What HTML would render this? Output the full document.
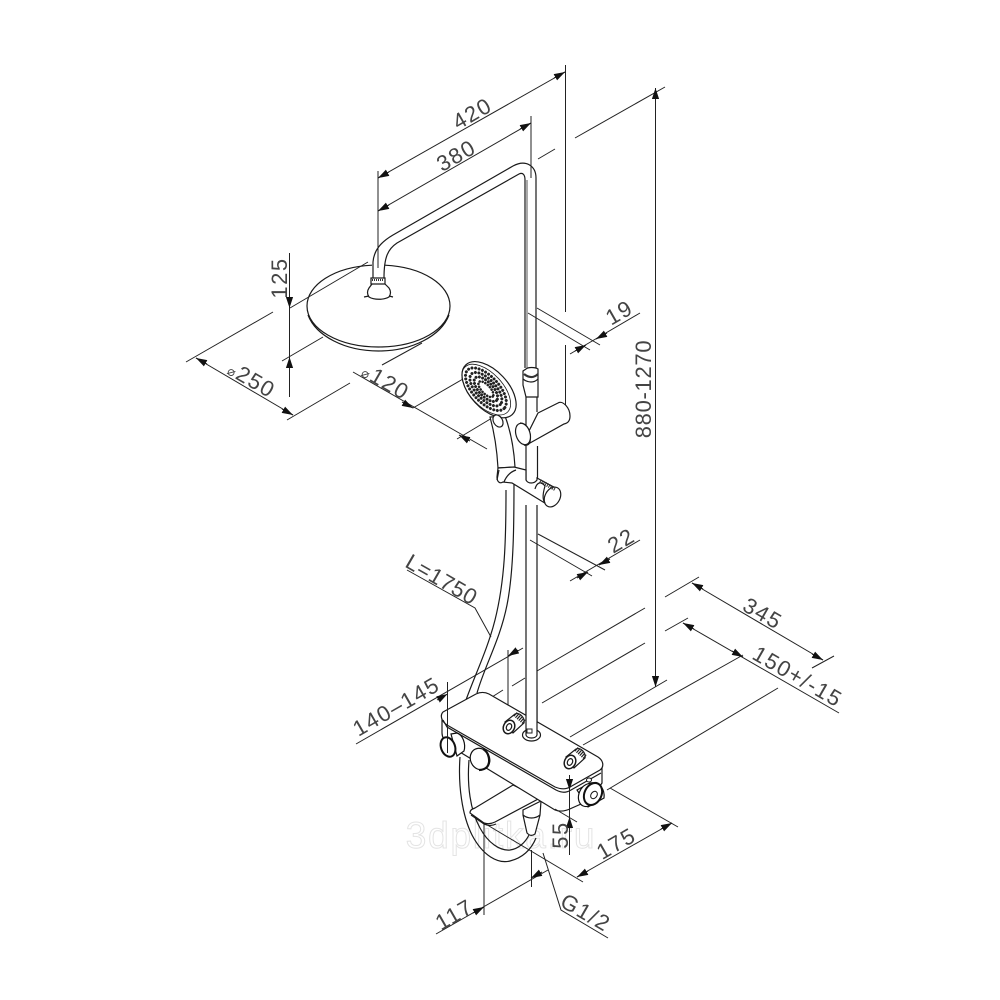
<!DOCTYPE html>
<html><head><meta charset="utf-8"><style>
html,body{margin:0;padding:0;background:#fff}
svg{display:block}
.t{font-family:"Liberation Sans",sans-serif;font-size:22px;letter-spacing:1.5px;fill:#444;text-anchor:middle}
.d line,.d path{stroke:#222;stroke-width:1;fill:none}
.o path,.o ellipse,.o circle{stroke:#1a1a1a;stroke-width:1.2;fill:none}
.f path,.f ellipse{stroke:#1a1a1a;stroke-width:1.2;fill:#fff}
.dots ellipse{fill:none;stroke:#222;stroke-linecap:round}
</style></head><body>
<svg width="1000" height="1000" viewBox="0 0 1000 1000" xmlns="http://www.w3.org/2000/svg">
<defs><marker id="a" markerUnits="userSpaceOnUse" markerWidth="12" markerHeight="8" refX="11" refY="4" orient="auto"><path d="M0 .4L11 4L0 7.6z" fill="#111"/></marker></defs>
<rect width="1000" height="1000" fill="#fff"/>

<text x="501" y="848" style="font-family:'Liberation Sans',sans-serif;font-size:37px;letter-spacing:1.8px;text-anchor:middle;fill:#fff;stroke:#e4e4e4;stroke-width:1">3dplitka.ru</text>

<!-- riser and arm -->
<g class="o">
<path d="M373 278L373 262C374 250 381 242 393 235L513 166C526 159 536 166 536 178L536 368"/>
<path d="M384 278C384 257 388 249 397 243L519 174C523 172 525 175 525 180L525 368"/>
<path d="M527 180L527 368" style="stroke:#aaa;stroke-width:2"/>
<path d="M526 397L526 430M537 397L537 412M526 446L526 482M537.500 446L537.500 480M526 505L526 735M537 505L537 735"/>
</g>

<!-- overhead shower -->
<g class="o">
<path d="M372 265.200C334 267 307 285 307 306C307 329 339 347 378.500 347C418 347 450 329 450 306C450 285 423 267 385 265.200"/>
<path d="M308 315C316 336 345 351 378.500 351C412 351 441 336 449 315"/>
<path d="M372 284L369 288C367 291 367 294 369 297C374 300 384 300 389 297C391 294 391 291 389 288L385 284"/>
<path d="M369 296L364 297M389 296L393 297"/>
<path d="M371 278L385 278L385 284L371 284Z" style="fill:#fff"/>
</g>
<path d="M372 280L384 280" stroke="#333" stroke-width="2" stroke-dasharray="1 1"/>

<g class="d">
<!-- 420 / 380 -->
<line x1="565.500" y1="65" x2="565.500" y2="312"/><line x1="565.500" y1="345" x2="565.500" y2="405"/>
<line x1="531" y1="116" x2="531" y2="178"/><line x1="378" y1="171" x2="378" y2="268"/>
<line x1="378" y1="178" x2="565" y2="72"/><line x1="378" y1="211" x2="531" y2="123"/>
<path d="M389 172L378 178" marker-end="url(#a)"/><path d="M554 78L565 72" marker-end="url(#a)"/>
<path d="M389 205L378 211" marker-end="url(#a)"/><path d="M520 129L531 123" marker-end="url(#a)"/>
<line x1="538" y1="159" x2="555" y2="149"/><line x1="575" y1="138" x2="665" y2="87"/>
<!-- 125 -->
<line x1="289.500" y1="253" x2="289.500" y2="397"/>
<path d="M289.500 297L289.500 308" marker-end="url(#a)"/><path d="M289.500 368L289.500 357" marker-end="url(#a)"/>
<line x1="290" y1="308" x2="368" y2="262"/><line x1="282" y1="361" x2="323" y2="337"/>
<!-- 250 -->
<line x1="186" y1="362" x2="273" y2="312"/><line x1="196" y1="358" x2="293" y2="415"/>
<path d="M207 364L196 358" marker-end="url(#a)"/><path d="M282 409L293 415" marker-end="url(#a)"/>
<line x1="287" y1="420" x2="350" y2="383"/><line x1="382" y1="365" x2="422" y2="343"/>
<!-- 120 -->
<line x1="353" y1="372" x2="487" y2="449"/>
<path d="M402 402L413 408" marker-end="url(#a)"/><path d="M470 441L459 435" marker-end="url(#a)"/>
<line x1="413" y1="408" x2="463" y2="379"/><line x1="457" y1="439" x2="492" y2="418"/>
<!-- 19 -->
<line x1="537" y1="308" x2="600" y2="345"/><line x1="528" y1="313" x2="590" y2="350"/>
<line x1="570" y1="354" x2="640" y2="313"/>
<path d="M575 351L586 345" marker-end="url(#a)"/><path d="M607 333L596 339" marker-end="url(#a)"/>
<!-- 22 -->
<line x1="538" y1="534" x2="605" y2="570"/><line x1="530" y1="540" x2="592" y2="576"/>
<line x1="570" y1="581" x2="640" y2="540"/>
<path d="M577 578L588 572" marker-end="url(#a)"/><path d="M610 559L599 565" marker-end="url(#a)"/>
<!-- 880-1270 -->
<line x1="655.500" y1="88" x2="655.500" y2="687"/>
<path d="M655.500 99L655.500 88" marker-end="url(#a)"/><path d="M655.500 676L655.500 687" marker-end="url(#a)"/>
<line x1="570" y1="737" x2="667" y2="680"/>
<!-- 345 -->
<line x1="665" y1="597" x2="699" y2="577"/><line x1="812" y1="668" x2="834" y2="656"/>
<line x1="692" y1="583" x2="823" y2="660"/>
<path d="M703 589L692 583" marker-end="url(#a)"/><path d="M812 654L823 660" marker-end="url(#a)"/>
<line x1="537" y1="671" x2="645" y2="608"/>
<line x1="512" y1="686" x2="525" y2="678"/><line x1="542" y1="703" x2="645" y2="643"/>
<line x1="492" y1="697" x2="503" y2="690"/>
<!-- 140-145 -->
<line x1="356" y1="744" x2="523" y2="648"/>
<line x1="508" y1="650" x2="508" y2="705"/>
<path d="M518 650L508 656" marker-end="url(#a)"/>
<!-- 150 -->
<line x1="665" y1="631" x2="688" y2="618"/>
<line x1="683" y1="623" x2="839" y2="713"/>
<path d="M694 629L683 623" marker-end="url(#a)"/><path d="M732 651L743 657" marker-end="url(#a)"/>
<line x1="583" y1="745" x2="743" y2="655"/><line x1="607" y1="790" x2="778" y2="688"/>
<!-- 175 -->
<line x1="610" y1="788" x2="678" y2="827"/><line x1="484" y1="823" x2="583" y2="882"/>
<line x1="577" y1="877" x2="672" y2="823"/>
<path d="M588 871L577 877" marker-end="url(#a)"/><path d="M661 829L672 823" marker-end="url(#a)"/>
<!-- 117 -->
<line x1="436" y1="934" x2="548" y2="870"/>
<line x1="484" y1="823" x2="484" y2="915"/><line x1="531.500" y1="850" x2="531.500" y2="887"/>
<path d="M473 913L484 907" marker-end="url(#a)"/><path d="M542 872L531 878" marker-end="url(#a)"/>
<!-- leaders -->
<path d="M543 853L561 910L608 938"/>
<path d="M407 570L475 608L491 637"/>
</g>

<!-- hose upper -->
<g class="o">
<path d="M506 490C506 540 505 580 495 620C488 648 475 675 466 700"/>
<path d="M514 478C514 520 514 570 507 605C500 640 485 665 477 693"/>
</g>

<!-- hand shower -->
<g class="f">
<path d="M490 417C495 435 497 450 498 468L515 467C514 450 511 432 505 416Z"/>
</g>
<g transform="rotate(47 488 390)">
<ellipse cx="488.500" cy="389" rx="34" ry="19" fill="#fff" stroke="#1a1a1a" stroke-width="1.200"/>
<ellipse cx="486.500" cy="391" rx="31" ry="16.500" fill="none" stroke="#1a1a1a" stroke-width=".8"/>
<g class="dots">
<ellipse cx="486" cy="391" rx="26.500" ry="13" stroke-width="3" stroke-dasharray="0 3.600"/>
<ellipse cx="486" cy="391" rx="21" ry="9.800" stroke-width="3" stroke-dasharray="0 3.600"/>
<ellipse cx="486" cy="391" rx="15.500" ry="7" stroke-width="3" stroke-dasharray="0 3.400"/>
<ellipse cx="486" cy="391" rx="10" ry="4.300" stroke-width="2.600" stroke-dasharray="0 3"/>
</g>
<ellipse cx="487" cy="391" rx="6" ry="1.800" fill="#fff"/>
</g>
<ellipse cx="498" cy="421" rx="4.500" ry="6.500" transform="rotate(-30 498 421)" fill="#fff" stroke="#1a1a1a" stroke-width="1.200"/>

<!-- collar on riser -->
<g class="o"><path d="M526 369C528 367 535 367 538 369L538 397L526 397L523 385L523 371Z" style="fill:#fff"/><path d="M523 379C528 383 534 383 538 379"/></g>
<path d="M524 374C529 378 534 378 538 374" stroke="#333" stroke-width="2.200" fill="none"/>

<!-- upper clamp -->
<g class="f">
<path d="M538 413L558 403C563 400 570 408 570 416C570 421 568 423 564 424L530 443L524 441Z"/>
<path d="M520 423C527 423 532 432 530 442C529 445 526 446 524 445" style="fill:none"/>
<ellipse cx="523" cy="434" rx="7" ry="11" transform="rotate(-18 523 434)"/>
</g>

<!-- slider -->
<g class="f">
<path d="M498 468L497 477C497 482 500 484 503 482L512 483L548 505C553 507 559 498 559 490L537 478L537 480C534 484 528 484 526 480L526 470L514 467Z"/>
<ellipse cx="552.500" cy="497" rx="7.500" ry="10.500" transform="rotate(28 552.500 497)"/>
<path d="M504 482C506 477 510 472 516 470M499 470L497 480" style="fill:none"/>
<path d="M540 481L555 489" style="stroke:#333;stroke-width:4;stroke-dasharray:1 1;fill:none"/>
<path d="M535 489C537 482 541 481 545 486C543 493 542 499 545 503" style="fill:none"/>
</g>

<!-- hose lower -->
<g class="o">
<path d="M460 757C458 785 462 815 472 835C483 856 498 864 510 861C522 858 531 850 536 838"/>
<path d="M469 760C467 785 470 810 480 828C488 843 500 851 510 850C518 849 525 843 529 835"/>
</g>

<!-- spout -->
<g class="f">
<path d="M470 813C470 810 472 809 475 808L513 785L540 798L495 822C491 824 487 824 484 823Z"/>
<path d="M471 815L484 824C488 826 492 826 496 824" style="fill:none"/>
<path d="M523 815L523 810L541 801L540 815L535 834C532 836 530 836 527 833Z"/>
<path d="M523 815C528 819 535 819 540 815" style="fill:none"/>
</g>

<!-- thermostat body -->
<g class="f">
<path d="M442 716L442 733C442 738 445 742 450 746L555 810C560 812 566 811 572 808L590 800L602 783L602 763Z"/>
<path d="M443 712L476 694C480 692 485 692 489 694L598 757C604 761 604 767 600 770L570 787C565 790 560 789 555 787L447 725C441 721 440 715 443 712Z"/>
<path d="M443 720L447 727L556 790C562 793 566 793 571 790L601 773" style="fill:none"/>
</g>

<!-- pipe base -->
<g class="f"><ellipse cx="531.500" cy="735" rx="9" ry="6"/></g>
<path d="M526 690L526 735C527 739 536 739 537 735L537 690Z" fill="#fff"/>
<g class="o"><path d="M526 690L526 735C527 739 536 739 537 735L537 690"/></g>
<rect x="527" y="729" width="5" height="4" fill="none" stroke="#222"/>

<!-- valves -->
<g class="o">
<path d="M505 722L515 714C520 712 525 718 524 723L513 733Z" style="fill:#fff"/>
<path d="M515 714L524 722" style="stroke:#222;stroke-width:5;stroke-dasharray:1.200 1"/>
<ellipse cx="509" cy="727" rx="5.500" ry="7" transform="rotate(25 509 727)" style="fill:#fff;stroke-width:1.500"/>
<ellipse cx="509" cy="727" rx="2.500" ry="3.500" transform="rotate(25 509 727)" style="fill:#fff"/>
</g>
<g class="o">
<path d="M566 757L576 749C581 747 586 753 585 758L574 768Z" style="fill:#fff"/>
<path d="M576 749L585 757" style="stroke:#222;stroke-width:5;stroke-dasharray:1.200 1"/>
<ellipse cx="570" cy="762" rx="5.500" ry="7" transform="rotate(25 570 762)" style="fill:#fff;stroke-width:1.500"/>
<ellipse cx="570" cy="762" rx="2.500" ry="3.500" transform="rotate(25 570 762)" style="fill:#fff"/>
</g>

<!-- knobs -->
<g>
<path d="M451 734L457 733C463 735 466 744 464 751L457 756Z" fill="#fff" stroke="#111" stroke-width="1.200"/>
<ellipse cx="448" cy="747" rx="7" ry="10" transform="rotate(-20 448 747)" fill="#fff" stroke="#111" stroke-width="2"/>
<ellipse cx="480" cy="759" rx="9.500" ry="11" transform="rotate(-25 480 759)" fill="#fff" stroke="#111" stroke-width="1.200"/>
<path d="M483 749C489 752 491 762 487 767C485 769 482 770 479 770" fill="none" stroke="#111" stroke-width="2.200"/>
<path d="M577 790L590 783C600 781 605 790 604 798L588 807Z" fill="#fff" stroke="#111" stroke-width="1.200"/>
<ellipse cx="588" cy="795" rx="9" ry="12" transform="rotate(25 588 795)" fill="#fff" stroke="#111" stroke-width="1.200"/>
<ellipse cx="593" cy="794" rx="8.500" ry="11.500" transform="rotate(25 593 794)" fill="#fff" stroke="#111" stroke-width="2"/>
<ellipse cx="594" cy="795" rx="3" ry="4" transform="rotate(35 594 795)" fill="#fff" stroke="#111"/>
<ellipse cx="589" cy="780" rx="2.500" ry="2" fill="#fff" stroke="#111"/>
</g>

<!-- dims over body -->
<g class="d">
<line x1="447.500" y1="682" x2="447.500" y2="753"/>
<path d="M437 700L447.500 694" marker-end="url(#a)"/>
<line x1="569.500" y1="775" x2="569.500" y2="855"/>
<path d="M569.500 779L569.500 790" marker-end="url(#a)"/><path d="M569.500 828L569.500 817" marker-end="url(#a)"/>
<path d="M555 809L577 822"/>
</g>

<!-- labels -->
<text class="t" transform="translate(476 120) rotate(-30)">420</text>
<text class="t" transform="translate(460 162) rotate(-30)">380</text>
<text class="t" transform="translate(287 278) rotate(-90)">125</text>
<text class="t" transform="translate(248 386) rotate(30)"><tspan style="font-family:'DejaVu Sans';font-size:13px">⌀</tspan>250</text>
<text class="t" transform="translate(382 388) rotate(30)"><tspan style="font-family:'DejaVu Sans';font-size:13px">⌀</tspan>120</text>
<text class="t" transform="translate(623 319) rotate(-30)">19</text>
<text class="t" transform="translate(625 547) rotate(-30)">22</text>
<text class="t" transform="translate(651 389) rotate(-90)" style="letter-spacing:.7px">880-1270</text>
<text class="t" transform="translate(438 586) rotate(30)" style="letter-spacing:.8px">L=1750</text>
<text class="t" transform="translate(759 620) rotate(30)">345</text>
<text class="t" transform="translate(794 683) rotate(30)">150+/-15</text>
<text class="t" transform="translate(400 713) rotate(-30)">140–145</text>
<text class="t" transform="translate(620 850) rotate(-30)">175</text>
<text class="t" transform="translate(568 835) rotate(-90)">55</text>
<text class="t" transform="translate(458 921) rotate(-30)">117</text>
<text class="t" transform="translate(582 919) rotate(30)">G1/2</text>
</svg>
</body></html>
